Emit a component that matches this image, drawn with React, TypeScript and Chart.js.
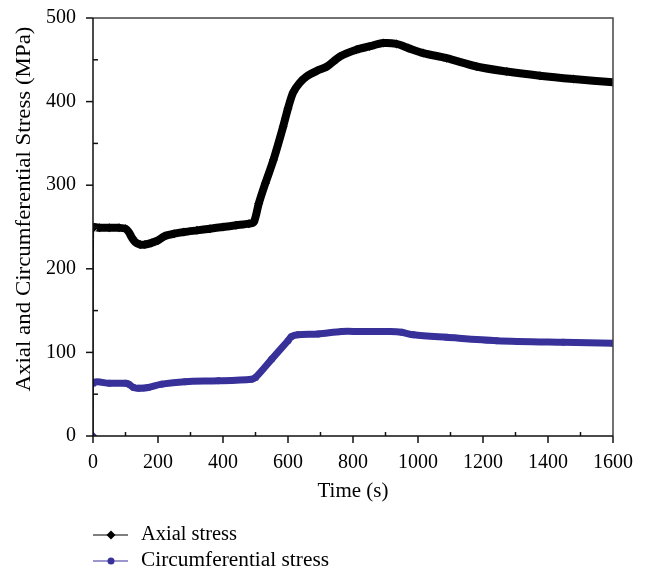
import React, { useEffect, useRef } from "react";
import { Chart, registerables } from "chart.js";

Chart.register(...registerables);

const axialTime = [0, 2, 20, 50, 80, 100, 110, 120, 130, 145, 160, 180, 200, 220, 250, 280, 320, 360, 400, 440, 480, 495, 510, 530, 555, 585, 600, 616, 635, 657, 690, 720, 760, 810, 850, 893, 934, 970, 1016, 1088, 1180, 1273, 1375, 1478, 1600];
const axialStress = [0, 249, 249, 249, 249, 248, 244, 237, 232, 229, 229, 231, 234, 239, 242, 244, 246, 248, 250, 252, 254, 256, 278, 302, 330, 370, 392, 411, 422, 430, 437, 442, 454, 462, 466, 470, 469, 464, 458, 452, 442, 436, 431, 427, 423];

const circTime = [0, 2, 50, 100, 110, 125, 140, 170, 211, 283, 386, 488, 500, 550, 600, 611, 630, 693, 765, 820, 914, 950, 986, 1088, 1242, 1447, 1600];
const circStress = [0, 63, 63, 63, 62, 58, 57, 58, 62, 65, 66, 68, 70, 92, 114, 119, 121, 122, 125, 125, 125, 124, 121, 118, 114, 112, 111];

const xTicks = [0, 200, 400, 600, 800, 1000, 1200, 1400, 1600];
const yTicks = [0, 100, 200, 300, 400, 500];
const seriesNames = ["Axial stress", "Circumferential stress"];
const xTitle = "Time (s)";
const yTitle = "Axial and Circumferential Stress (MPa)";

const BLUE = "#38319a";
const FONT = "'Liberation Serif', 'DejaVu Serif', serif";
const FS = 20;

function fitText(ctx: any, text: string, x: number, y: number, width: number, align: string) {
  const m = ctx.measureText(text).width;
  const s = width / m;
  ctx.save();
  ctx.translate(x, y);
  ctx.scale(s, 1);
  ctx.textAlign = align;
  ctx.fillText(text, 0, 0);
  ctx.restore();
}

const decorPlugin = {
  id: "decor",
  afterDraw(chart: any) {
    const { ctx, chartArea } = chart;
    const { left, right, top, bottom } = chartArea;
    const xs = chart.scales.x;
    const ys = chart.scales.y;
    ctx.save();
    ctx.strokeStyle = "#444";
    ctx.lineWidth = 1.5;
    ctx.beginPath();
    ctx.moveTo(left, top);
    ctx.lineTo(right, top);
    ctx.lineTo(right, bottom);
    ctx.stroke();
    ctx.strokeStyle = "#111";
    ctx.beginPath();
    ctx.moveTo(left, top);
    ctx.lineTo(left, bottom);
    ctx.lineTo(right, bottom);
    ctx.stroke();
    for (let v = 0; v <= 1600; v += 100) {
      const px = xs.getPixelForValue(v);
      ctx.beginPath();
      if (v % 200 === 0) {
        ctx.moveTo(px, bottom);
        ctx.lineTo(px, bottom + 7);
      } else {
        ctx.moveTo(px, bottom);
        ctx.lineTo(px, bottom - 4);
      }
      ctx.stroke();
    }
    for (let v = 0; v <= 500; v += 50) {
      const py = ys.getPixelForValue(v);
      ctx.beginPath();
      if (v % 100 === 0) {
        ctx.moveTo(left, py);
        ctx.lineTo(left - 7, py);
      } else {
        ctx.moveTo(left, py);
        ctx.lineTo(left + 5, py);
      }
      ctx.stroke();
    }
    ctx.fillStyle = "#000";
    ctx.font = `${FS}px ${FONT}`;
    ctx.textBaseline = "middle";
    fitText(ctx, xTitle, (left + right) / 2, 492, 71, "center");
    ctx.save();
    ctx.translate(25, 209);
    ctx.rotate(-Math.PI / 2);
    fitText(ctx, yTitle, 0, 0, 365, "center");
    ctx.restore();
    const rows = [535, 561];
    const widths = [96, 188];
    chart.data.datasets.forEach((ds: any, i: number) => {
      const y = rows[i];
      ctx.strokeStyle = ds.borderColor;
      ctx.lineWidth = 1.2;
      ctx.beginPath();
      ctx.moveTo(93, y);
      ctx.lineTo(128, y);
      ctx.stroke();
      ctx.fillStyle = ds.borderColor;
      ctx.beginPath();
      if (i === 0) {
        ctx.moveTo(111, y - 4.5);
        ctx.lineTo(115.5, y);
        ctx.lineTo(111, y + 4.5);
        ctx.lineTo(106.5, y);
        ctx.closePath();
      } else {
        ctx.arc(111, y, 3.5, 0, Math.PI * 2);
      }
      ctx.fill();
      ctx.fillStyle = "#000";
      fitText(ctx, ds.label, 141, y, widths[i], "left");
    });
    ctx.restore();
  },
};

export default function App() {
  const ref = useRef<HTMLCanvasElement>(null);
  useEffect(() => {
    if (!ref.current) return;
    const thick = (w: number) => (c: any) => (c.p0DataIndex === 0 ? 1 : w);
    const chart = new Chart(ref.current, {
      type: "line",
      data: {
        datasets: [
          {
            label: seriesNames[0],
            data: axialTime.map((t, i) => ({ x: t, y: axialStress[i] })),
            borderColor: "#000",
            backgroundColor: "#000",
            borderWidth: 8,
            pointStyle: "rectRot",
            pointRadius: (c: any) => (c.dataIndex === 0 ? 0 : 4.5),
            pointBorderWidth: 0,
            tension: 0.3,
            segment: { borderWidth: thick(8) },
          } as any,
          {
            label: seriesNames[1],
            data: circTime.map((t, i) => ({ x: t, y: circStress[i] })),
            borderColor: BLUE,
            backgroundColor: BLUE,
            borderWidth: 7,
            pointStyle: (c: any) => (c.dataIndex === 0 ? "rectRot" : "circle"),
            pointRadius: (c: any) => (c.dataIndex === 0 ? 4.5 : 3.5),
            pointBorderWidth: 0,
            tension: 0.3,
            segment: { borderWidth: thick(7) },
          } as any,
        ],
      },
      options: {
        responsive: false,
        animation: false,
        layout: { padding: { top: 18, right: 33, left: 0, bottom: 0 } },
        plugins: { legend: { display: false }, tooltip: { enabled: false } },
        scales: {
          x: {
            type: "linear",
            min: 0,
            max: 1600,
            afterFit: (s: any) => {
              s.height = 135;
            },
            afterBuildTicks: (s: any) => {
              s.ticks = xTicks.map((v) => ({ value: v }));
            },
            grid: { display: true, drawOnChartArea: false, drawTicks: true, tickLength: 15, tickColor: "rgba(0,0,0,0)" },
            border: { display: false },
            ticks: {
              padding: 0,
              color: "#000",
              font: { family: FONT, size: FS },
              maxRotation: 0,
              callback: (v: any) => String(v),
            },
          },
          y: {
            type: "linear",
            min: 0,
            max: 500,
            afterFit: (s: any) => {
              s.width = 93;
            },
            afterBuildTicks: (s: any) => {
              s.ticks = yTicks.map((v) => ({ value: v }));
            },
            grid: { display: true, drawOnChartArea: false, drawTicks: true, tickLength: 17, tickColor: "rgba(0,0,0,0)" },
            border: { display: false },
            ticks: {
              padding: 0,
              color: "#000",
              font: { family: FONT, size: FS },
              callback: (v: any) => String(v),
            },
          },
        },
      },
      plugins: [decorPlugin],
    });
    return () => chart.destroy();
  }, []);
  return (
    <div style={{ position: "absolute", left: 0, top: 0, width: 646, height: 571, background: "#fff" }}>
      <canvas ref={ref} width={646} height={571} />
    </div>
  );
}
